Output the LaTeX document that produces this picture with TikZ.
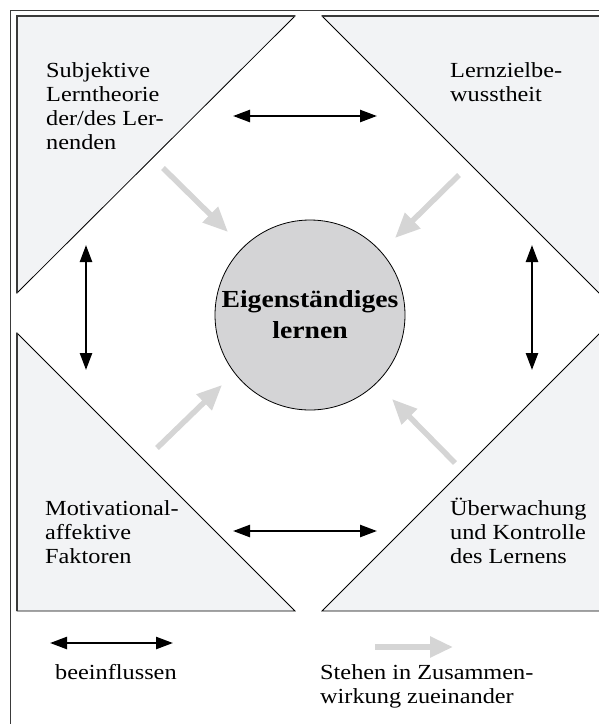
\documentclass[tikz,border=0pt]{standalone}
\usepackage{fontspec}
\setmainfont{Liberation Serif}[FakeStretch=1.13]
\usetikzlibrary{arrows.meta}
\definecolor{trifill}{HTML}{F2F3F5}
\definecolor{circfill}{HTML}{D4D4D6}
\definecolor{arrgray}{HTML}{D5D5D5}
\definecolor{framecol}{HTML}{3A3A3A}
\tikzset{
  tri/.style={fill=trifill, draw=black, line width=0.8pt},
  edge/.style={draw=framecol, line width=1.6pt},
  lbl/.style={anchor=north west, inner sep=0pt, align=left, font=\fontsize{21.5}{24}\selectfont},
  infl/.style={line width=2.4pt, {Triangle[length=17pt,width=12pt]}-{Triangle[length=17pt,width=12pt]}},
  coop/.style={draw=arrgray, line width=5.5pt, -{Triangle[length=25pt,width=21pt]}},
  center/.style={circle, draw=black, line width=0.8pt, fill=circfill, minimum size=190pt, inner sep=0pt, align=center, font=\fontsize{24.5}{31}\selectfont\bfseries}
}
\begin{document}
\begin{tikzpicture}[x=1pt,y=-1pt]
\useasboundingbox (0,0) rectangle (599,724);
\clip (0,0) rectangle (599,724);
% outer frame
\draw[framecol, line width=1.4pt] (10.5,10.5) rectangle (640,760);
% triangles
\path[tri] (17,16) -- (295,16) -- (17,293) -- cycle;
\path[tri] (322,16) -- (600,16) -- (600,294) -- cycle;
\path[tri] (17,333) -- (295,611) -- (17,611) -- cycle;
\path[tri] (322,611) -- (600,333) -- (600,611) -- cycle;
\draw[edge] (17,293) -- (17,16) -- (295,16);
\draw[edge] (322,16) -- (605,16);
\draw[edge] (17,333) -- (17,611);
% corner texts
\node[lbl] (subj) at (46,62.5) {Subjektive\\Lerntheorie\\der/des Ler-\\nenden};
\node[lbl] (ziel) at (450,62.5) {Lernzielbe-\\wusstheit};
\node[lbl] (moti) at (45,500.5) {Motivational-\\affektive\\Faktoren};
\node[lbl] (uebe) at (450,497.5) {Überwachung\\und Kontrolle\\des Lernens};
% centre
\node[center] (ego) at (310,315) {Eigenständiges\\lernen};
% influence arrows
\coordinate (t1) at (233,116); \coordinate (t2) at (377,116);
\coordinate (b1) at (233,531); \coordinate (b2) at (377,531);
\coordinate (l1) at (86,245); \coordinate (l2) at (86,370);
\coordinate (r1) at (532,245); \coordinate (r2) at (532,370);
\draw[infl] (t1) -- (t2);
\draw[infl] (b1) -- (b2);
\draw[infl] (l1) -- (l2);
\draw[infl] (r1) -- (r2);
% cooperation arrows
\coordinate (gs1) at (163,168); \coordinate (ge1) at (228,232);
\coordinate (gs2) at (459,175); \coordinate (ge2) at (395,238);
\coordinate (gs3) at (157,448); \coordinate (ge3) at (222,385);
\coordinate (gs4) at (455,463); \coordinate (ge4) at (392,399);
\draw[coop] (gs1) -- (ge1);
\draw[coop] (gs2) -- (ge2);
\draw[coop] (gs3) -- (ge3);
\draw[coop] (gs4) -- (ge4);
% legend
\coordinate (la1) at (50,643); \coordinate (la2) at (173,643);
\draw[infl] (la1) -- (la2);
\node[lbl] (lt1) at (55,664.5) {beeinflussen};
\coordinate (lg1) at (375,647); \coordinate (lg2) at (453,647);
\draw[coop, -{Triangle[length=23pt,width=20pt]}] (lg1) -- (lg2);
\node[lbl] (lt2) at (320,664.5) {Stehen in Zusammen-\\wirkung zueinander};
\end{tikzpicture}
\end{document}
